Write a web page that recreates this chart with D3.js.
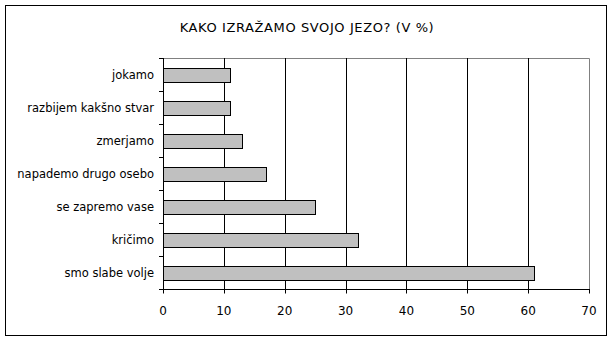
<!DOCTYPE html>
<html>
<head>
<meta charset="utf-8">
<script src="https://cdn.jsdelivr.net/npm/d3@7"></script>
<style>
  body { margin: 0; background: #fff; }
  svg text { font-family: "Comic Sans MS", "DejaVu Sans", sans-serif; font-size: 12px; fill: #000; }
  svg text.cat { font-size: 11.5px; }
  svg text.title { font-size: 13px; letter-spacing: 0.6px; }
</style>
</head>
<body>
<svg id="chart" width="614" height="342"></svg>
<script>
var categories = ["jokamo", "razbijem kakšno stvar", "zmerjamo", "napademo drugo osebo",
                  "se zapremo vase", "kričimo", "smo slabe volje"];
var values = [11, 11, 13, 17, 25, 32, 61];
var xTicks = [0, 10, 20, 30, 40, 50, 60, 70];
var title = "KAKO IZRAŽAMO SVOJO JEZO? (V %)";

(function () {
    var svg = d3.select("#chart");
    var plotLeft = 163, plotRight = 589, plotTop = 58, plotBottom = 289;

    // outer frame
    svg.append("rect")
        .attr("x", 5.5).attr("y", 5.5)
        .attr("width", 601).attr("height", 330)
        .attr("fill", "#fff").attr("stroke", "#000");

    svg.append("text")
        .attr("class", "title")
        .attr("x", 307).attr("y", 32)
        .attr("text-anchor", "middle")
        .text(title);

    var x = d3.scaleLinear().domain([0, 70]).range([plotLeft, plotRight]);
    var band = d3.scaleBand().domain(categories).range([plotTop, plotBottom]);
    var barH = 14;

    // plot border (gray top and right)
    svg.append("path")
        .attr("d", "M" + plotLeft + "," + (plotTop + 0.5) + "H" + (plotRight + 0.5) + "V" + plotBottom)
        .attr("fill", "none").attr("stroke", "#808080");

    // gridlines
    svg.append("g").selectAll("line")
        .data(xTicks.filter(function (d) { return d > 0 && d < 70; }))
        .join("line")
        .attr("x1", function (d) { return Math.round(x(d)) + 0.5; })
        .attr("x2", function (d) { return Math.round(x(d)) + 0.5; })
        .attr("y1", plotTop).attr("y2", plotBottom)
        .attr("stroke", "#000");

    // bars
    svg.append("g").selectAll("rect")
        .data(values)
        .join("rect")
        .attr("x", plotLeft + 0.5)
        .attr("y", function (d, i) {
            return Math.round(band(categories[i]) + (band.bandwidth() - barH) / 2) + 0.5;
        })
        .attr("width", function (d) { return Math.round(x(d) - plotLeft); })
        .attr("height", barH)
        .attr("fill", "#c0c0c0").attr("stroke", "#000");

    // x axis
    var xAxis = svg.append("g")
        .attr("transform", "translate(0," + (plotBottom + 0.5) + ")");
    xAxis.append("line")
        .attr("x1", plotLeft - 4).attr("x2", plotRight + 1)
        .attr("stroke", "#000");
    xAxis.selectAll("line.tick")
        .data(xTicks)
        .join("line")
        .attr("class", "tick")
        .attr("x1", function (d) { return Math.round(x(d)) + 0.5; })
        .attr("x2", function (d) { return Math.round(x(d)) + 0.5; })
        .attr("y1", 0).attr("y2", 4)
        .attr("stroke", "#000");
    xAxis.selectAll("text")
        .data(xTicks)
        .join("text")
        .attr("x", function (d) { return x(d); })
        .attr("y", 25)
        .attr("text-anchor", "middle")
        .text(function (d) { return d; });

    // y axis
    var yAxis = svg.append("g");
    yAxis.append("line")
        .attr("x1", plotLeft + 0.5).attr("x2", plotLeft + 0.5)
        .attr("y1", plotTop).attr("y2", plotBottom + 4)
        .attr("stroke", "#000");
    var bounds = categories.map(function (c) { return band(c); }).concat([plotBottom]);
    yAxis.selectAll("line.tick")
        .data(bounds)
        .join("line")
        .attr("class", "tick")
        .attr("x1", plotLeft - 4).attr("x2", plotLeft)
        .attr("y1", function (d) { return Math.round(d) + 0.5; })
        .attr("y2", function (d) { return Math.round(d) + 0.5; })
        .attr("stroke", "#000");
    yAxis.selectAll("text.cat")
        .data(categories)
        .join("text")
        .attr("class", "cat")
        .attr("x", 154)
        .attr("y", function (d) { return band(d) + band.bandwidth() / 2; })
        .attr("dy", "0.35em")
        .attr("text-anchor", "end")
        .text(function (d) { return d; });
})();
</script>
</body>
</html>
